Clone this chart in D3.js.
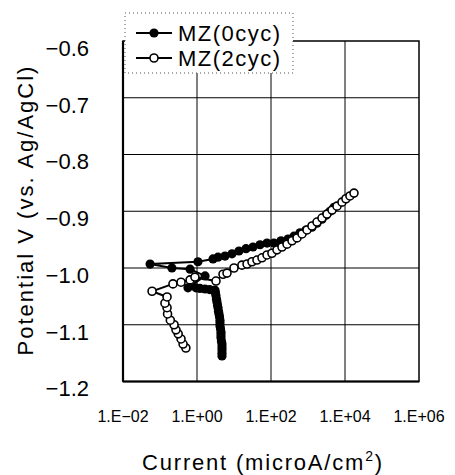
<!DOCTYPE html>
<html><head><meta charset="utf-8">
<script src="https://cdn.jsdelivr.net/npm/d3@7"></script>
<style>
html,body{margin:0;padding:0;background:#fff;}
svg{display:block;font-family:"Liberation Sans",Arial,sans-serif;}
</style></head>
<body>
<svg id="c" width="455" height="475"></svg>
<script>
// Series MZ(0cyc) – filled markers
const current0 = [4.74,4.74,4.74,4.74,4.74,4.59,4.45,4.45,4.45,4.32,4.18,4.18,4.18,4.06,3.93,3.81,3.70,3.58,3.47,3.37,3.26,3.16,3.07,
  2.2,1.65,1.2,0.94,0.57,
  1.65,0.65,0.21,0.054,1.06,2.71,3.69,5.71,8.83,13.6,21.1,32.6,50.4,78,120,186,288,419,608,883,1283,1750,2390,3064,3933,5045];
const potential0 = [-1.155,-1.150,-1.144,-1.139,-1.134,-1.129,-1.123,-1.118,-1.113,-1.107,-1.102,-1.097,-1.092,-1.086,-1.081,-1.076,-1.070,-1.065,-1.060,-1.055,-1.049,-1.044,-1.039,
  -1.038,-1.037,-1.036,-1.035,-1.035,
  -1.014,-1.002,-1.000,-0.993,-0.989,-0.984,-0.981,-0.979,-0.975,-0.970,-0.966,-0.963,-0.959,-0.956,-0.956,-0.952,-0.949,-0.944,-0.938,-0.933,-0.928,-0.921,-0.914,-0.907,-0.900,-0.893];
// Series MZ(2cyc) – open markers
const current2 = [0.50,0.42,0.37,0.31,0.27,0.24,0.19,0.16,0.155,0.136,0.155,0.061,0.224,0.37,0.65,0.88,
  3.26,5.05,6.47,10.0,16.4,22.5,30.6,41.8,57.1,78,106,145,198,271,370,505,689,940,1280,1750,2390,3260,4460,6080,8300,10600,13600,17500];
const potential2 = [-1.141,-1.134,-1.125,-1.116,-1.109,-1.100,-1.092,-1.081,-1.070,-1.062,-1.051,-1.041,-1.028,-1.025,-1.021,-1.016,
  -1.023,-1.011,-1.009,-1.000,-0.995,-0.993,-0.989,-0.986,-0.982,-0.977,-0.974,-0.968,-0.963,-0.958,-0.952,-0.947,-0.940,-0.933,-0.926,-0.919,-0.912,-0.905,-0.898,-0.891,-0.884,-0.878,-0.873,-0.868];

const seriesNames = ["MZ(0cyc)","MZ(2cyc)"];
const xTickValues = [1e-2,1e0,1e2,1e4,1e6];
const xTickLabels = ["1.E\u221202","1.E+00","1.E+02","1.E+04","1.E+06"];
const yTickValues = [-0.6,-0.7,-0.8,-0.9,-1.0,-1.1,-1.2];
const yTickLabels = ["\u22120.6","\u22120.7","\u22120.8","\u22120.9","\u22121.0","\u22121.1","\u22121.2"];
const xTitle = "Current (microA/cm";
const yTitle = "Potential V (vs. Ag/AgCl)";

const svg = d3.select("#c");
const x = d3.scaleLog().domain([1e-2,1e6]).range([123,419]);
const y = d3.scaleLinear().domain([-1.2,-0.6]).range([381.5,41]);

// grid
const g = svg.append("g");
g.selectAll("line.vg").data(xTickValues.slice(1,-1)).enter().append("line")
  .attr("x1",d=>x(d)).attr("x2",d=>x(d)).attr("y1",y(-0.6)).attr("y2",y(-1.2))
  .attr("stroke","#000").attr("stroke-width",1);
g.selectAll("line.hg").data(yTickValues.slice(1,-1)).enter().append("line")
  .attr("x1",x(1e-2)).attr("x2",x(1e6)).attr("y1",d=>y(d)).attr("y2",d=>y(d))
  .attr("stroke","#000").attr("stroke-width",1);
// frame
g.append("rect").attr("x",x(1e-2)).attr("y",y(-0.6)).attr("width",x(1e6)-x(1e-2)).attr("height",y(-1.2)-y(-0.6))
  .attr("fill","none").attr("stroke","#000").attr("stroke-width",1.5);
g.append("line").attr("x1",x(1e-2)).attr("x2",x(1e-2)).attr("y1",y(-0.6)).attr("y2",y(-1.2)).attr("stroke","#000").attr("stroke-width",2.2);
g.append("line").attr("x1",x(1e-2)).attr("x2",x(1e6)).attr("y1",y(-1.2)).attr("y2",y(-1.2)).attr("stroke","#000").attr("stroke-width",2.2);

// tick labels
svg.append("g").selectAll("text").data(yTickValues).enter().append("text")
  .attr("x",89).attr("y",d=>y(d)+7).attr("dy","0.36em").attr("text-anchor","end")
  .attr("font-size",22).text((d,i)=>yTickLabels[i]);
svg.append("g").selectAll("text").data(xTickValues).enter().append("text")
  .attr("x",d=>x(d)).attr("y",416).attr("dy","0.36em").attr("text-anchor","middle")
  .attr("font-size",16).text((d,i)=>xTickLabels[i]);

// titles
const xt = svg.append("text").attr("x",263).attr("y",470).attr("text-anchor","middle")
  .attr("font-size",22).attr("letter-spacing",1.8).text(xTitle);
xt.append("tspan").attr("font-size",14).attr("dy",-9).text("2");
xt.append("tspan").attr("dy",9).text(")");
svg.append("text").attr("transform","translate(33,210) rotate(-90)").attr("text-anchor","middle")
  .attr("font-size",22).attr("letter-spacing",2).text(yTitle);

// data
const d0 = current0.map((c,i)=>[c,potential0[i]]);
const d2 = current2.map((c,i)=>[c,potential2[i]]);
const line = d3.line().x(d=>x(d[0])).y(d=>y(d[1]));
const pg = svg.append("g");
pg.append("path").datum(d0).attr("d",line).attr("fill","none").attr("stroke","#000").attr("stroke-width",2);
pg.append("path").datum(d2).attr("d",line).attr("fill","none").attr("stroke","#000").attr("stroke-width",2);
pg.selectAll("circle.f").data(d0).enter().append("circle")
  .attr("cx",d=>x(d[0])).attr("cy",d=>y(d[1])).attr("r",4.6).attr("fill","#000");
pg.selectAll("circle.o").data(d2).enter().append("circle")
  .attr("cx",d=>x(d[0])).attr("cy",d=>y(d[1])).attr("r",4).attr("fill","#fff").attr("stroke","#000").attr("stroke-width",1.6);

// legend
const lg = svg.append("g");
lg.append("rect").attr("x",125).attr("y",13).attr("width",168).attr("height",60)
  .attr("fill","#fff").attr("stroke","#555").attr("stroke-width",1).attr("stroke-dasharray","1,3");
seriesNames.forEach((n,i)=>{
  const yy = 33 + i*25;
  lg.append("line").attr("x1",136).attr("x2",172).attr("y1",yy).attr("y2",yy).attr("stroke","#000").attr("stroke-width",2);
  const c = lg.append("circle").attr("cx",154).attr("cy",yy).attr("r",i===0?4.6:4);
  if(i===0) c.attr("fill","#000"); else c.attr("fill","#fff").attr("stroke","#000").attr("stroke-width",1.6);
  lg.append("text").attr("x",178).attr("y",yy).attr("dy","0.36em").attr("font-size",22).attr("letter-spacing",1.5).text(n);
});
</script>
</body></html>
